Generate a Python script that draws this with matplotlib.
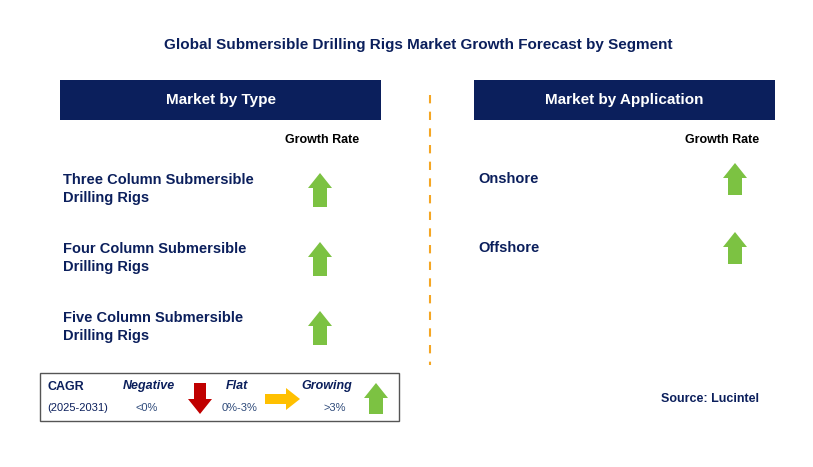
import matplotlib
matplotlib.use("Agg")
import matplotlib.pyplot as plt
from matplotlib.patches import Rectangle, Polygon

plt.rcParams["font.family"] = "Liberation Sans"

title = "Global Submersible Drilling Rigs Market Growth Forecast by Segment"
type_categories = ["Three Column Submersible\nDrilling Rigs", "Four Column Submersible\nDrilling Rigs", "Five Column Submersible\nDrilling Rigs"]
type_growth = ["up", "up", "up"]
app_categories = ["Onshore", "Offshore"]
app_growth = ["up", "up"]

NAVY = "#0B1F5C"
GREEN = "#7CC242"
fig = plt.figure(figsize=(8.13, 4.67), dpi=100)
ax = fig.add_axes([0, 0, 1, 1])
ax.set_xlim(0, 813); ax.set_ylim(467, 0); ax.axis("off")

def up_arrow(cx, top, bot, color=GREEN, hw=12, bw=7, hl=15):
    pts = [(cx, top), (cx + hw, top + hl), (cx + bw, top + hl), (cx + bw, bot),
           (cx - bw, bot), (cx - bw, top + hl), (cx - hw, top + hl)]
    ax.add_patch(Polygon(pts, closed=True, color=color, lw=0))

def down_arrow(cx, top, bot, color, hw=12, bw=6, hl=15):
    pts = [(cx, bot), (cx + hw, bot - hl), (cx + bw, bot - hl), (cx + bw, top),
           (cx - bw, top), (cx - bw, bot - hl), (cx - hw, bot - hl)]
    ax.add_patch(Polygon(pts, closed=True, color=color, lw=0))

def right_arrow(left, right, cy, color, hw=11, bw=5, hl=14):
    pts = [(right, cy), (right - hl, cy - hw), (right - hl, cy - bw), (left, cy - bw),
           (left, cy + bw), (right - hl, cy + bw), (right - hl, cy + hw)]
    ax.add_patch(Polygon(pts, closed=True, color=color, lw=0))

ax.text(418, 45, title, ha="center", va="center", fontsize=11, fontweight="bold", color=NAVY)

for (x0, x1, label) in [(60, 381, "Market by Type"), (474, 775, "Market by Application")]:
    ax.add_patch(Rectangle((x0, 80), x1 - x0, 40, color=NAVY, lw=0))
    ax.text((x0 + x1) / 2, 100, label, ha="center", va="center", fontsize=11, fontweight="bold", color="white")

ax.plot([430, 430], [95, 365], ls=(0, (4, 4)), color="#F5A623", lw=1.5)

ax.text(322, 140, "Growth Rate", ha="center", va="center", fontsize=9, fontweight="bold", color="black")
ax.text(722, 140, "Growth Rate", ha="center", va="center", fontsize=9, fontweight="bold", color="black")

for i, (cat, g) in enumerate(zip(type_categories, type_growth)):
    yc = 189 + i * 69
    ax.text(63, yc, cat, ha="left", va="center", fontsize=10.5, fontweight="bold", color=NAVY, linespacing=1.4)
    up_arrow(320, yc - 16, yc + 18)

for i, (cat, g) in enumerate(zip(app_categories, app_growth)):
    yc = 179 + i * 69
    ax.text(478, yc, cat, ha="left", va="center", fontsize=10.5, fontweight="bold", color=NAVY)
    up_arrow(735, yc - 16, yc + 16)

ax.add_patch(Rectangle((40, 373), 359, 48, fill=False, ec="#555555", lw=1))
LG = "#2E4A7A"
ax.text(47, 387, "CAGR", fontsize=9, fontweight="bold", color=NAVY, va="center")
ax.text(47, 408, "(2025-2031)", fontsize=8, color=NAVY, va="center")
ax.text(149, 386, "Negative", fontsize=9, fontweight="bold", style="italic", color=NAVY, ha="center", va="center")
ax.text(147, 408, "<0%", fontsize=8, color=LG, ha="center", va="center")
down_arrow(200, 383, 414, "#C00000")
ax.text(237, 386, "Flat", fontsize=9, fontweight="bold", style="italic", color=NAVY, ha="center", va="center")
ax.text(240, 408, "0%-3%", fontsize=8, color=LG, ha="center", va="center")
right_arrow(265, 300, 399, "#FFC000")
ax.text(327, 386, "Growing", fontsize=9, fontweight="bold", style="italic", color=NAVY, ha="center", va="center")
ax.text(335, 408, ">3%", fontsize=8, color=LG, ha="center", va="center")
up_arrow(376, 383, 414)

ax.text(710, 399, "Source: Lucintel", fontsize=9, fontweight="bold", color=NAVY, ha="center", va="center")

fig.savefig("out.png", dpi=100)
